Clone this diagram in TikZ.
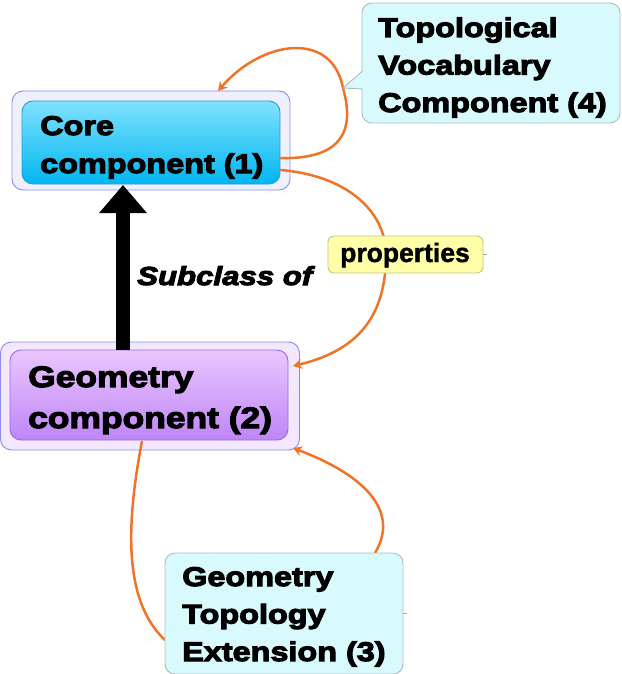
\documentclass[tikz,border=0pt]{standalone}
\usepackage{fontspec}
\setmainfont{Liberation Sans}
\newfontfamily\heavy[FakeStretch=1.2,FakeBold=4]{Liberation Sans Bold}
\newfontfamily\heavyit[FakeStretch=1.2,FakeBold=4]{Liberation Sans Bold Italic}
\newfontfamily\boldsans[FakeBold=1.5]{Liberation Sans Bold}
\usetikzlibrary{arrows.meta}
\definecolor{coreTop}{HTML}{80E2FF}
\definecolor{coreBot}{HTML}{00B6F0}
\definecolor{coreLine}{HTML}{2E98D8}
\definecolor{outerFillA}{HTML}{EEF0FC}
\definecolor{outerFillB}{HTML}{F3E8FF}
\definecolor{outerLine}{HTML}{8C8CF0}
\definecolor{geoTop}{HTML}{EAC6FF}
\definecolor{geoBot}{HTML}{BE86F6}
\definecolor{geoLine}{HTML}{9070E0}
\definecolor{callFill}{HTML}{D8FAFC}
\definecolor{callLine}{HTML}{A8BEBE}
\definecolor{propFill}{HTML}{FFFFA8}
\definecolor{propLine}{HTML}{C4C48C}
\definecolor{orangeL}{HTML}{F07428}
\tikzset{
  box/.style={rounded corners=11pt, inner sep=0pt, line width=0.9pt},
  outerbox/.style={box, draw=outerLine},
  callout/.style={box, rounded corners=10pt, draw=callLine, fill=callFill},
  rel/.style={draw=orangeL, line width=2.5pt},
  relarrow/.style={rel, -{Stealth[length=9pt,width=10pt]}},
  bigtext/.style={anchor=base west, align=left, inner sep=0pt, font=\heavy\fontsize{27}{38}\selectfont},
  geotext/.style={anchor=base west, align=left, inner sep=0pt, font=\heavy\fontsize{29.5}{41}\selectfont},
  calltext/.style={anchor=base west, align=left, inner sep=0pt, font=\heavy\fontsize{27}{37.5}\selectfont},
}
\begin{document}
\begin{tikzpicture}[x=1pt,y=-1pt]
\useasboundingbox (0,0) rectangle (621,674);
% main boxes
\node[outerbox, fill=outerFillA, minimum width=278pt, minimum height=99pt] (co) at (151,140.5) {};
\node[box, draw=coreLine, top color=coreTop, bottom color=coreBot, minimum width=258pt, minimum height=83pt] (ci) at (151,142.5) {};
\node[outerbox, fill=outerFillB, minimum width=299pt, minimum height=108pt] (go) at (150,396) {};
\node[box, draw=geoLine, top color=geoTop, bottom color=geoBot, minimum width=278pt, minimum height=90pt] (gi) at (149,395) {};
% connector anchor points
\coordinate (c1) at (280,158);
\coordinate (c2) at (280,170);
\coordinate (c1end) at (218,91);
\coordinate (tip4) at (343,88);
\coordinate (g1) at (142,441);
\coordinate (g2end) at (293,366);
\coordinate (g3end) at (293,448);
\coordinate (e1) at (165,640);
\coordinate (e2) at (375,553);
\coordinate (a1) at (123,350);
\coordinate (a2) at (123,185);
% orange relations
\draw[relarrow] (c1) .. controls (352,160) and (352,120) .. (tip4) .. controls (332,30) and (262,40) .. (c1end);
\draw[relarrow] (c2) .. controls (345,175) and (386,210) .. (386,255) .. controls (386,322) and (352,352) .. (g2end);
\draw[rel] (g1) .. controls (127,520) and (122,600) .. (e1);
\draw[relarrow] (e2) .. controls (398,515) and (372,478) .. (g3end);
% subclass arrow
\draw[line width=14pt, -{Triangle[length=28pt,width=46pt]}] (a1) -- (a2);
% properties
\node[box, rounded corners=6pt, draw=propLine, fill=propFill, minimum width=155pt, minimum height=37pt] (pr) at (405.5,254.5) {};
\node[anchor=base, inner sep=0pt, font=\boldsans\fontsize{26.5}{30}\selectfont] (prt) at (405,262) {properties};
\draw[draw=gray!70, line width=0.6pt] (pr.east) -- ++(4,0);
% topological callout
\node[callout, minimum width=258pt, minimum height=120pt] (tv) at (491,63) {};
\fill[callFill] (363.5,71) -- (tip4) -- (363.5,89) -- cycle;
\draw[draw=callLine, line width=0.9pt] (362.5,71) -- (tip4) -- (362.5,89);
% extension callout
\node[callout, minimum width=238pt, minimum height=121pt] (ex) at (284,613.5) {};
\draw[draw=gray!70, line width=0.6pt] (ex.east) -- ++(4,0);
% texts (anchored at the baseline of the last line)
\node[bigtext] (cot) at (40,173) {Core\\component (1)};
\node[geotext] (got) at (28,428) {Geometry\\component (2)};
\node[calltext] (tvt) at (378,112) {Topological\\Vocabulary\\Component (4)};
\node[calltext] (ext) at (182,661) {Geometry\\Topology\\Extension (3)};
\node[anchor=base west, inner sep=0pt, font=\heavyit\fontsize{26}{30}\selectfont] (sub) at (137,285) {Subclass of};
\end{tikzpicture}
\end{document}
